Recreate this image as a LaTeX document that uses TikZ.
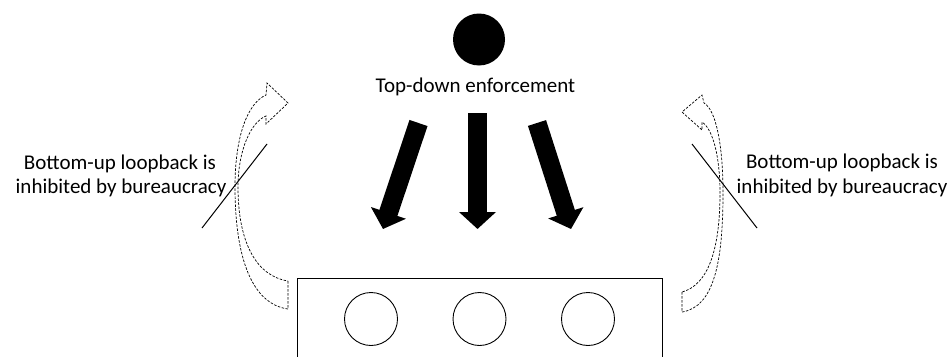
\documentclass[tikz,border=0pt]{standalone}
\usepackage{fontspec}
\setmainfont{Carlito}
\usetikzlibrary{arrows.meta}
\tikzset{
  lbl/.style={font=\fontsize{21}{25}\selectfont, inner sep=0pt, anchor=base},
  blockarrow/.style={line width=19pt, -{Triangle[length=17pt,width=36pt]}},
  curvedarr/.style={draw, line width=0.7pt, dash pattern=on 2.5pt off 1.5pt, line join=miter},
  strike/.style={line width=1pt},
  ring/.style={circle, draw, line width=0.9pt, minimum size=53pt, inner sep=0pt},
}
\begin{document}
\begin{tikzpicture}[x=1pt,y=-1pt]
\useasboundingbox (0,0) rectangle (952,356);

% top black dot and label
\node[circle, fill=black, minimum size=52pt, inner sep=0pt] (dot) at (479,39.5) {};
\node[lbl] (top) at (475.5,92) {Top-down enforcement};

% block arrows
\coordinate (la0) at (418.5,123);
\coordinate (la1) at (383,229);
\coordinate (ma0) at (477.5,113);
\coordinate (ma1) at (477.5,229);
\coordinate (ra0) at (537,123);
\coordinate (ra1) at (571,229);
\draw[blockarrow] (la0) -- (la1);
\draw[blockarrow] (ma0) -- (ma1);
\draw[blockarrow] (ra0) -- (ra1);

% bottom box and circles
\draw[line width=1pt] (297,358) -- (297,278) -- (662,278) -- (662,358);
\node[ring] (c1) at (371,319) {};
\node[ring] (c2) at (479.5,319) {};
\node[ring] (c3) at (588,319) {};

% left curved arrow
\path[curvedarr] (288,281) -- (288,309)
  .. controls (252,304) and (235,258) .. (235,187)
  .. controls (235,135) and (248,103) .. (266,95)
  -- (267,83) -- (288,103) -- (266,124) -- (266,116)
  .. controls (251,122) and (238,150) .. (238,187)
  .. controls (238,242) and (256,276) .. (288,281) -- cycle;

% right curved arrow
\path[curvedarr] (682,292) -- (682,312)
  .. controls (714,307) and (723,262) .. (723,193)
  .. controls (723,145) and (716,110) .. (704,103)
  -- (702,95) -- (682,112) -- (702,130) -- (702,122)
  .. controls (714,130) and (720,160) .. (720,193)
  .. controls (720,250) and (708,285) .. (682,292) -- cycle;

% strike lines
\coordinate (ls0) at (202,228);
\coordinate (ls1) at (267,144);
\coordinate (rs0) at (692,144);
\coordinate (rs1) at (757,228);
\draw[strike] (ls0) -- (ls1);
\draw[strike] (rs0) -- (rs1);

% side labels
\node[lbl] (l1) at (120,169) {Bottom-up loopback is};
\node[lbl] (l2) at (121,193) {inhibited by bureaucracy};
\node[lbl] (r1) at (842,168) {Bottom-up loopback is};
\node[lbl] (r2) at (842,193) {inhibited by bureaucracy};
\end{tikzpicture}
\end{document}
